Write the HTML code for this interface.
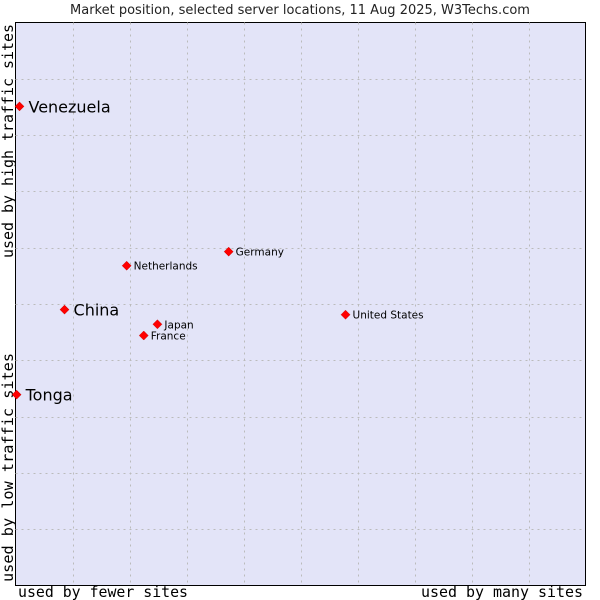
<!DOCTYPE html>
<html><head><meta charset="utf-8"><style>
body{margin:0;background:#fff;width:600px;height:600px;overflow:hidden}
svg{display:block}
</style></head><body>
<svg id="chart" width="600" height="600" xmlns="http://www.w3.org/2000/svg" font-family="'DejaVu Sans', 'Liberation Sans', sans-serif">
<text x="300" y="14" text-anchor="middle" font-size="13" fill="#222">Market position, selected server locations, 11 Aug 2025, W3Techs.com</text>
<rect x="15.5" y="22.5" width="570" height="563" fill="#e3e4f8" stroke="#000" stroke-width="1"/>
<g id="grid"></g>
<text x="18" y="597" textLength="170" lengthAdjust="spacingAndGlyphs" font-family="'DejaVu Sans Mono','Liberation Mono',monospace" font-size="15" fill="#000">used by fewer sites</text>
<text x="421" y="597" textLength="162" lengthAdjust="spacingAndGlyphs" font-family="'DejaVu Sans Mono','Liberation Mono',monospace" font-size="15" fill="#000">used by many sites</text>
<text transform="translate(13,258) rotate(-90)" textLength="234" lengthAdjust="spacingAndGlyphs" font-family="'DejaVu Sans Mono','Liberation Mono',monospace" font-size="15" fill="#000">used by high traffic sites</text>
<text transform="translate(13,582) rotate(-90)" textLength="229" lengthAdjust="spacingAndGlyphs" font-family="'DejaVu Sans Mono','Liberation Mono',monospace" font-size="15" fill="#000">used by low traffic sites</text>
<g id="points"></g>
</svg>
<script>
const names=["Venezuela","China","Tonga","Netherlands","Germany","Japan","France","United States"];
const xs=[0.7,8.6,0.2,19.5,37.4,24.9,22.5,57.9];
const ys=[85.1,49.0,33.9,56.8,59.3,46.4,44.4,48.1];
const big=[true,true,true,false,false,false,false,false];
const L=15.5,T=22.5,W=570,H=563;
const sx=v=>L+v/100*W, sy=v=>T+H-v/100*H;
const NS="http://www.w3.org/2000/svg";
const g=document.getElementById('grid');
for(let i=1;i<10;i++){
 const v=document.createElementNS(NS,'line');
 
 
 const x=Math.round(sx(i*10))+0.5;
 v.setAttribute('x1',x);v.setAttribute('x2',x);v.setAttribute('y1',T);v.setAttribute('y2',T+H);
 v.setAttribute('stroke','#bbb');v.setAttribute('stroke-dasharray','2,4');g.appendChild(v);
 const h=document.createElementNS(NS,'line');
 
 
 const y=Math.round(sy(i*10))+0.5;
 h.setAttribute('x1',L);h.setAttribute('x2',L+W);h.setAttribute('y1',y);h.setAttribute('y2',y);
 h.setAttribute('stroke','#bbb');h.setAttribute('stroke-dasharray','2,4');g.appendChild(h);
}
const p=document.getElementById('points');
names.forEach((n,i)=>{
 const x=sx(xs[i]),y=sy(ys[i]);
 const d=document.createElementNS(NS,'path');
 
 
 d.setAttribute('d',`M${x-4.5},${y} L${x},${y-4.5} L${x+4.5},${y} L${x},${y+4.5}Z`);
 d.setAttribute('fill','#f00');d.setAttribute('stroke','#c00');d.setAttribute('stroke-width','0.5');
 p.appendChild(d);
 const t=document.createElementNS(NS,'text');
 
 
 t.setAttribute('x',x+(big[i]?9:7));t.setAttribute('y',y+(big[i]?6:4));
 t.setAttribute('font-size',big[i]?'16':'10.5');t.setAttribute('fill','#000');
 t.textContent=n;p.appendChild(t);
});
</script>
</body></html>
